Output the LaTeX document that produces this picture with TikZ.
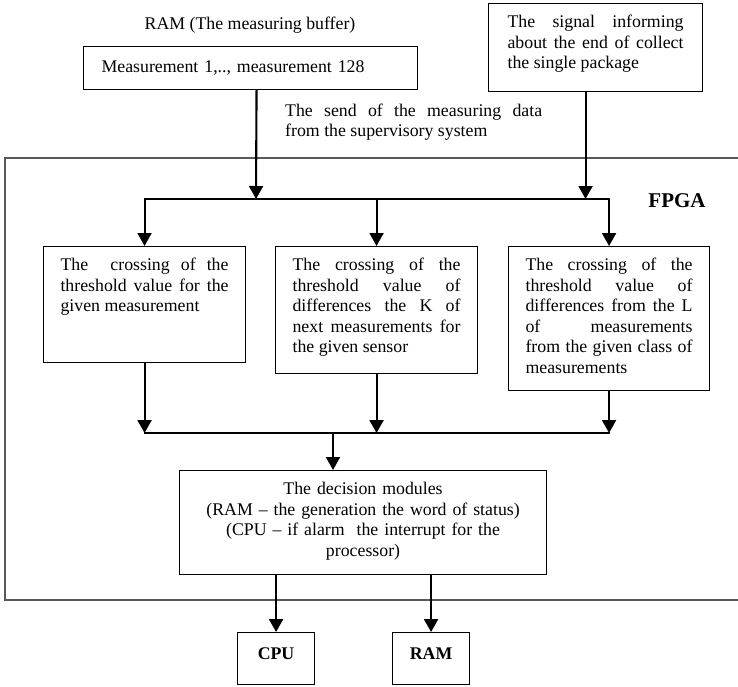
\documentclass[tikz,border=0pt]{standalone}
\usepackage{fontspec}
\setmainfont{Liberation Serif}
\usetikzlibrary{arrows.meta, positioning, calc}
\tikzstyle{testbox} = [rectangle, draw=black, line width=1.1pt, anchor=north west, text width=168pt, inner xsep=17pt, inner ysep=12pt, text height=12pt, align=justify]
\tikzstyle{unitbox} = [rectangle, draw=black, line width=1.1pt, anchor=north west, minimum width=77pt, inner ysep=15pt, text height=12pt, text depth=10pt, font=\fontsize{17.8}{20.5}\selectfont\bfseries]
\tikzstyle{arrow} = [-{Triangle[length=13pt, width=14pt]}, line width=2.1pt]
\tikzstyle{bus} = [line width=2.1pt, line cap=rect]
\tikzstyle{frame} = [line width=1.4pt, draw=black!65]

\begin{document}
\begin{tikzpicture}[x=1pt, y=-1pt, font=\fontsize{17.8}{20.5}\selectfont]
    \useasboundingbox (0,0) rectangle (738,686);

    % === FPGA frame (right side runs off the page) ===
    \draw[frame] (745,158) -- (5,158) -- (5,600) -- (745,600);

    % === TOP: buffer and end-of-package signal ===
    \node (ramlabel) at (250,25) {RAM (The measuring buffer)};
    \node[testbox, text width=298pt, inner xsep=18pt, inner ysep=13.5pt, text depth=4pt, align=left] (buffer) at (83,46) {Measurement 1,.., measurement 128};
    \node[testbox, text width=176pt, inner xsep=19pt, text depth=52pt] (signal) at (488,3) {The\ \ signal\ \ informing\linebreak about the end of collect\linebreak the single package};
    \node[anchor=north west, text width=257pt, inner sep=0pt, align=justify, text height=12pt] (sendlabel) at (285,104) {The send of the measuring data\linebreak from the supervisory system};

    % === MIDDLE: the three threshold checks ===
    \node[font=\fontsize{21}{24}\selectfont\bfseries] (fpga) at (677,201) {FPGA};
    \node[testbox, text depth=80pt] (box1) at (43,246) {The\ \ crossing of the\linebreak threshold value for the\linebreak given measurement};
    \node[testbox, text depth=91pt] (box2) at (275,246) {The crossing of the\linebreak threshold value of\linebreak differences the K of\linebreak next measurements for\linebreak the given sensor};
    \node[testbox, text width=167pt, text depth=108pt] (box3) at (508,246) {The crossing of the\linebreak threshold value of\linebreak differences from the L\linebreak of measurements\linebreak from the given class of\linebreak measurements};

    % === BOTTOM: decision modules and outputs ===
    \node[testbox, text width=333pt, align=center, text depth=68pt] (decision) at (179,470) {The decision modules\\(RAM -- the generation the word of status)\\(CPU -- if alarm\ \ the interrupt for the\\processor)};
    \node[unitbox] (cpu) at (237,632) {CPU};
    \node[unitbox] (ram) at (392,632) {RAM};

    % junction points
    \coordinate (fork) at (256,199);
    \coordinate (join) at (333,433);

    % ===== ARROWS =====
    % inputs -> top bus
    \draw[arrow] ([xshift=6pt]buffer.south) -- (fork);
    \draw[arrow] ([xshift=-10pt]signal.south) -- ([xshift=-10pt]signal.south |- fork);

    % top bus -> checks
    \draw[bus] (box1.north |- fork) -- (box3.north |- fork);
    \foreach \b in {box1,box2,box3}
        \draw[arrow] (\b.north |- fork) -- (\b.north);

    % checks -> bottom bus -> decision
    \foreach \b in {box1,box2,box3}
        \draw[arrow] (\b.south) -- (\b.south |- join);
    \draw[bus] (box1.south |- join) -- (box3.south |- join);
    \draw[arrow] (join) -- (join |- decision.north);

    % decision -> CPU, RAM
    \draw[arrow] (decision.south -| cpu) -- (cpu.north);
    \draw[arrow] (decision.south -| ram) -- (ram.north);
\end{tikzpicture}
\end{document}
